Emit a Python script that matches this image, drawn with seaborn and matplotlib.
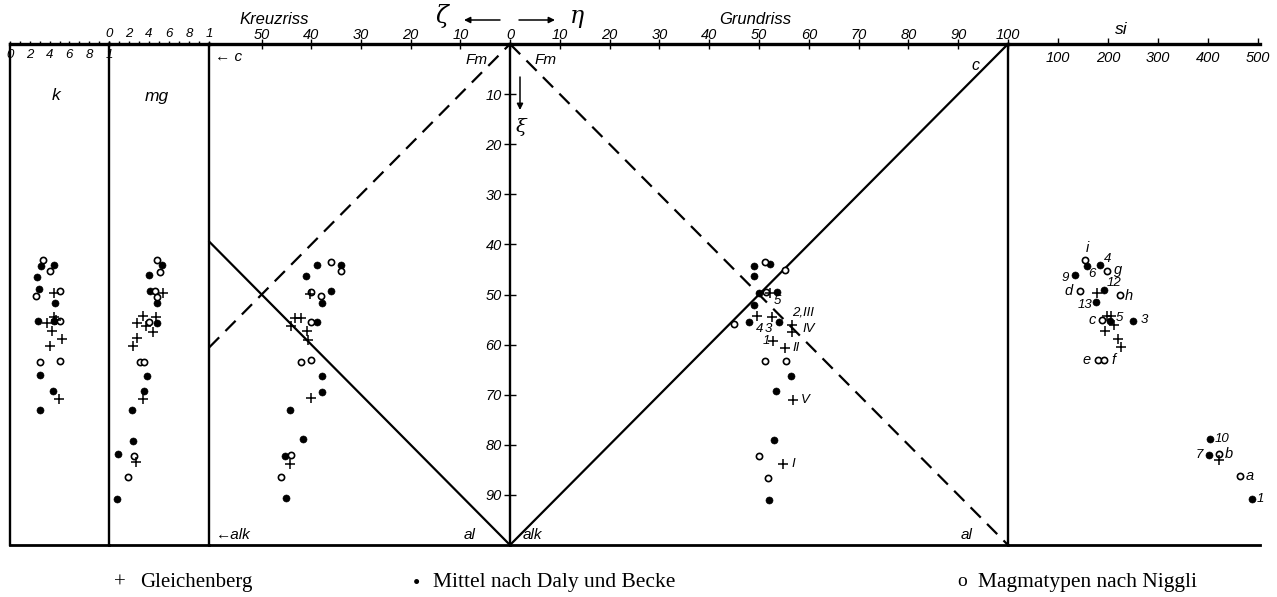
import matplotlib
matplotlib.use("Agg")
import matplotlib.pyplot as plt
import seaborn as sns

# ---------------- data ----------------
# k panel (k value, xi)
k_gl = [0.44, 0.44, 0.46, 0.37, 0.42, 0.53, 0.40, 0.49]
k_gl_xi = [49.8, 54.5, 55.0, 55.7, 57.3, 58.8, 60.3, 70.9]
k_mi = [0.31, 0.44, 0.27, 0.29, 0.45, 0.28, 0.44, 0.30, 0.43, 0.30]
k_mi_xi = [44.3, 44.2, 46.5, 49.0, 51.7, 55.3, 55.3, 66.0, 69.2, 73.0]
k_ni = [0.33, 0.40, 0.26, 0.51, 0.51, 0.30, 0.51]
k_ni_xi = [43.2, 45.3, 50.2, 49.3, 55.3, 63.5, 63.3]

# mg panel
mg_gl = [0.54, 0.34, 0.47, 0.28, 0.37, 0.44, 0.28, 0.24, 0.34, 0.27]
mg_gl_xi = [49.8, 54.2, 54.4, 55.7, 56.3, 57.5, 58.7, 60.3, 70.9, 83.5]
mg_mi = [0.53, 0.40, 0.41, 0.48, 0.48, 0.38, 0.35, 0.23, 0.24, 0.09, 0.08]
mg_mi_xi = [44.2, 46.2, 49.3, 51.7, 55.6, 66.3, 69.2, 73.1, 79.2, 81.9, 90.9]
mg_ni = [0.48, 0.51, 0.46, 0.48, 0.40, 0.31, 0.35, 0.25, 0.19]
mg_ni_xi = [43.2, 45.5, 49.4, 50.5, 55.5, 63.4, 63.5, 82.2, 86.5]

# Kreuzriss (zeta, xi)
kr_gl = [40.3, 43.3, 42.0, 44.1, 40.8, 40.7, 40.1, 44.3]
kr_gl_xi = [49.9, 54.7, 54.7, 56.2, 57.3, 59.0, 70.7, 83.8]
kr_mi = [38.9, 34.0, 41.1, 36.1, 37.9, 38.8, 37.9, 37.9, 44.2, 41.7, 45.2, 45.1]
kr_mi_xi = [44.2, 44.1, 46.3, 49.3, 51.7, 55.5, 66.3, 69.5, 73.1, 78.9, 82.2, 90.7]
kr_ni = [36.0, 34.0, 40.0, 38.1, 40.0, 42.1, 40.0, 44.0, 46.1]
kr_ni_xi = [43.5, 45.3, 49.5, 50.3, 55.5, 63.5, 63.1, 82.0, 86.5]

# Grundriss (eta, xi)
gr_gl = [52.2, 49.5, 52.7, 56.6, 56.6, 52.9, 55.2, 56.9, 54.9]
gr_gl_xi = [49.7, 54.2, 54.4, 56.0, 57.5, 59.2, 60.7, 71.0, 83.8]
gr_gl_lab = ["5", "4", "3", "2,III", "IV", "1", "II", "V", "I"]
gr_mi = [49.0, 52.2, 49.0, 50.0, 53.6, 49.0, 48.0, 54.1, 56.4, 53.4, 53.1, 52.0]
gr_mi_xi = [44.3, 44.0, 46.3, 49.8, 49.5, 52.0, 55.5, 55.5, 66.2, 69.3, 79.0, 91.0]
gr_ni = [51.2, 55.2, 51.4, 45.0, 51.2, 55.4, 50.1, 51.9]
gr_ni_xi = [43.5, 45.2, 49.5, 55.8, 63.3, 63.3, 82.3, 86.7]

# si panel (si, xi)
si_gl = [177, 197, 205, 211, 193, 219, 226, 421]
si_gl_xi = [49.7, 54.2, 54.2, 56.0, 57.3, 58.9, 60.5, 83.1]
si_mi = [184, 157, 134, 192, 176, 203, 249, 403, 401, 487]
si_mi_xi = [44.2, 44.3, 46.2, 49.1, 51.5, 55.3, 55.3, 78.9, 82.0, 90.9]
si_mi_lab = ["4", "6", "9", "12", "13", "5", "3", "10", "7", "1"]
si_ni = [154, 197, 143, 224, 187, 179, 192, 422, 463]
si_ni_xi = [43.1, 45.3, 49.3, 50.0, 55.1, 63.1, 63.1, 81.8, 86.2]
si_ni_lab = ["i", "g", "d", "h", "c", "e", "f", "b", "a"]

# reference lines (projection diagram)
kr_al_zeta = [60.6, 0]
kr_al_xi = [39.4, 100]
kr_fm_zeta = [60.6, 0]
kr_fm_xi = [60.6, 0]
gr_c_eta = [0, 100]
gr_c_xi = [100, 0]
gr_al_eta = [0, 100]
gr_al_xi = [0, 100]

# tick labels
unit_ticks = [0, 0.2, 0.4, 0.6, 0.8, 1.0]
unit_minor = [0.1, 0.3, 0.5, 0.7, 0.9]
unit_ticklabels = ["0", "2", "4", "6", "8", "1"]
kr_ticks = [50, 40, 30, 20, 10]
gr_ticks = [0, 10, 20, 30, 40, 50, 60, 70, 80, 90, 100]
si_ticks = [100, 200, 300, 400, 500]
xi_ticks = [10, 20, 30, 40, 50, 60, 70, 80, 90]

# label offsets (pixels, +x right, +y down) -- styling only
gr_lab_off = [(7, 8), (3, 13), (-4, 12), (11, -12), (17, -3), (-7, 0), (11, 0), (12, 0), (10, 0)]
si_mi_off = [(8, -6), (5, 8), (-10, 3), (10, -7), (-11, 3), (10, -3), (12, -1), (13, 0), (-9, 0), (9, 0)]
si_ni_off = [(2, -12), (12, -1), (-11, 0), (9, 1), (-9, 0), (-11, 0), (10, 0), (10, 0), (10, 0)]

# ---------------- style ----------------
sns.set_theme(style="white")
plt.rcParams["font.family"] = ["Liberation Sans", "DejaVu Sans"]
plt.rcParams["font.style"] = "italic"
plt.rcParams["xtick.minor.visible"] = False
plt.rcParams["ytick.minor.visible"] = False
for key in ["axes.edgecolor", "xtick.color", "ytick.color", "text.color", "axes.labelcolor"]:
    plt.rcParams[key] = "black"

W, H = 1277, 597
TOP, BOT = 44, 545
fig = plt.figure(figsize=(W / 100, H / 100), dpi=100)
fig.patch.set_facecolor("white")


def add_ax(x0, x1):
    ax = fig.add_axes([x0 / W, 1 - BOT / H, (x1 - x0) / W, (BOT - TOP) / H])
    ax.patch.set_alpha(0)
    for s in ["top", "bottom", "left", "right"]:
        ax.spines[s].set_color("black")
    ax.spines["top"].set_linewidth(2.4)
    ax.spines["bottom"].set_linewidth(2.0)
    ax.spines["left"].set_linewidth(1.7)
    ax.spines["right"].set_visible(False)
    return ax


ax_k = add_ax(10, 109)
ax_mg = add_ax(109, 209)
ax_kr = add_ax(209, 510)
ax_gr = add_ax(510, 1008)
ax_si = add_ax(1008, 1260)
all_axes = [ax_k, ax_mg, ax_kr, ax_gr, ax_si]


def points(ax, x, y, kind):
    if kind == "mi":
        sns.scatterplot(x=x, y=y, ax=ax, marker="o", s=26, color="black",
                        edgecolor="black", linewidth=0.4, legend=False, zorder=3, clip_on=False)
    elif kind == "ni":
        sns.scatterplot(x=x, y=y, ax=ax, marker="o", s=20, color="white",
                        edgecolor="black", linewidth=1.2, legend=False, zorder=4, clip_on=False)
    else:
        sns.scatterplot(x=x, y=y, ax=ax, marker="+", s=42, color="black",
                        linewidth=1.1, legend=False, zorder=5, clip_on=False)


for ax, gl, glx, mi, mix, ni, nix in [
    (ax_k, k_gl, k_gl_xi, k_mi, k_mi_xi, k_ni, k_ni_xi),
    (ax_mg, mg_gl, mg_gl_xi, mg_mi, mg_mi_xi, mg_ni, mg_ni_xi),
    (ax_kr, kr_gl, kr_gl_xi, kr_mi, kr_mi_xi, kr_ni, kr_ni_xi),
    (ax_gr, gr_gl, gr_gl_xi, gr_mi, gr_mi_xi, gr_ni, gr_ni_xi),
    (ax_si, si_gl, si_gl_xi, si_mi, si_mi_xi, si_ni, si_ni_xi),
]:
    points(ax, mi, mix, "mi")
    points(ax, ni, nix, "ni")
    points(ax, gl, glx, "gl")


def seg(ax, x, y, dashed=False):
    sns.lineplot(x=x, y=y, ax=ax, color="black", linewidth=1.6, sort=False,
                 estimator=None, legend=False)
    ln = ax.lines[-1]
    ln.set_clip_on(False)
    if dashed:
        ln.set_dashes([6.5, 4])


seg(ax_kr, kr_al_zeta, kr_al_xi)
seg(ax_kr, kr_fm_zeta, kr_fm_xi, dashed=True)
seg(ax_gr, gr_c_eta, gr_c_xi)
seg(ax_gr, gr_al_eta, gr_al_xi, dashed=True)

# limits and axis cleanup
ax_k.set_xlim(0, 1)
ax_mg.set_xlim(0, 1)
ax_kr.set_xlim(60.6, 0)
ax_gr.set_xlim(0, 100)
ax_si.set_xlim(0, 504)
for ax in all_axes:
    ax.set_ylim(100, 0)
    ax.set_xlabel("")
    ax.set_ylabel("")
    ax.minorticks_off()
    ax.tick_params(axis="y", which="both", left=False, right=False,
                   labelleft=False, labelright=False)

# ticks
for ax, pad in [(ax_k, -15), (ax_mg, 0.5)]:
    ax.xaxis.tick_top()
    ax.set_xticks(unit_ticks)
    ax.set_xticklabels(unit_ticklabels)
    ax.set_xticks(unit_minor, minor=True)
    ax.tick_params(axis="x", which="both", top=True, bottom=False, labeltop=True,
                   labelbottom=False, direction="out", length=2.5, width=1, pad=pad,
                   labelsize=9.5)

ax_kr.xaxis.tick_top()
ax_kr.set_xticks(kr_ticks)
ax_kr.set_xticklabels([str(t) for t in kr_ticks])
ax_kr.tick_params(axis="x", top=True, bottom=False, labeltop=True, labelbottom=False,
                  direction="inout", length=7, width=1, pad=-2, labelsize=10.5)

ax_gr.xaxis.tick_top()
ax_gr.set_xticks(gr_ticks)
ax_gr.set_xticklabels([str(t) for t in gr_ticks])
ax_gr.tick_params(axis="x", top=True, bottom=False, labeltop=True, labelbottom=False,
                  direction="inout", length=7, width=1, pad=-2, labelsize=10.5)
ax_gr.set_yticks(xi_ticks)
ax_gr.set_yticklabels([str(t) for t in xi_ticks])
ax_gr.tick_params(axis="y", left=True, labelleft=True, direction="inout", length=8,
                  width=1, pad=2, labelsize=10.5)

ax_si.xaxis.tick_top()
ax_si.set_xticks(si_ticks)
ax_si.set_xticklabels([str(t) for t in si_ticks])
ax_si.tick_params(axis="x", top=True, bottom=False, labeltop=True, labelbottom=False,
                  direction="out", length=4, width=1, pad=-19, labelsize=10.5)

# point labels
PX = 0.72
for x, y, lab, (dx, dy) in zip(gr_gl, gr_gl_xi, gr_gl_lab, gr_lab_off):
    ax_gr.annotate(lab, (x, y), xytext=(dx * PX, -dy * PX), textcoords="offset points",
                   ha="center", va="center", fontsize=9.5)
for x, y, lab, (dx, dy) in zip(si_mi, si_mi_xi, si_mi_lab, si_mi_off):
    ax_si.annotate(lab, (x, y), xytext=(dx * PX, -dy * PX), textcoords="offset points",
                   ha="center", va="center", fontsize=9.5, annotation_clip=False)
for x, y, lab, (dx, dy) in zip(si_ni, si_ni_xi, si_ni_lab, si_ni_off):
    ax_si.annotate(lab, (x, y), xytext=(dx * PX, -dy * PX), textcoords="offset points",
                   ha="center", va="center", fontsize=10.5, annotation_clip=False)


# figure-level texts (pixel positions)
def ftext(x, y, s, **kw):
    kw.setdefault("ha", "center")
    kw.setdefault("va", "center")
    fig.text(x / W, 1 - y / H, s, **kw)


ftext(274, 19, "Kreuzriss", fontsize=12)
ftext(755, 19, "Grundriss", fontsize=12)
ftext(1121, 29, "si", fontsize=12.5)
ftext(56, 95, "k", fontsize=12.5)
ftext(157, 96, "mg", fontsize=12.5)
ftext(215, 57, "\u2190 c", fontsize=11, ha="left")
ftext(477, 60, "Fm", fontsize=11)
ftext(546, 60, "Fm", fontsize=11)
ftext(975, 65, "c", fontsize=11.5)
ftext(216, 535, "\u2190alk", fontsize=11, ha="left")
ftext(470, 535, "al", fontsize=11)
ftext(532, 535, "alk", fontsize=11)
ftext(967, 535, "al", fontsize=11)
ftext(442, 16, "\u03b6", fontsize=17, family=["DejaVu Serif"])
ftext(577, 17, "\u03b7", fontsize=17, family=["DejaVu Serif"])
ftext(521, 127, "\u03be", fontsize=14, family=["DejaVu Serif"])

arrow_kw = dict(arrowstyle="-|>", color="black", lw=1.1, mutation_scale=9,
                shrinkA=0, shrinkB=0)
for (x0, y0), (x1, y1) in [((500, 20), (464, 20)), ((519, 20), (555, 20)),
                           ((520, 77), (520, 110))]:
    ax_gr.annotate("", xy=(x1, H - y1), xytext=(x0, H - y0), xycoords="figure pixels",
                   textcoords="figure pixels", arrowprops=arrow_kw, annotation_clip=False)

# legend
serif = ["Liberation Serif", "DejaVu Serif"]
ftext(120, 583, "+", fontsize=15, family=serif, style="normal")
ftext(140, 583, "Gleichenberg", fontsize=15, family=serif, style="normal", ha="left")
ftext(416, 584, "\u2022", fontsize=15, family=serif, style="normal")
ftext(433, 583, "Mittel nach Daly und Becke", fontsize=15.5, family=serif,
      style="normal", ha="left")
ftext(962, 582, "o", fontsize=14, family=serif, style="normal")
ftext(978, 583, "Magmatypen nach Niggli", fontsize=15.5, family=serif,
      style="normal", ha="left")

fig.savefig("out.png", dpi=100, facecolor="white")
